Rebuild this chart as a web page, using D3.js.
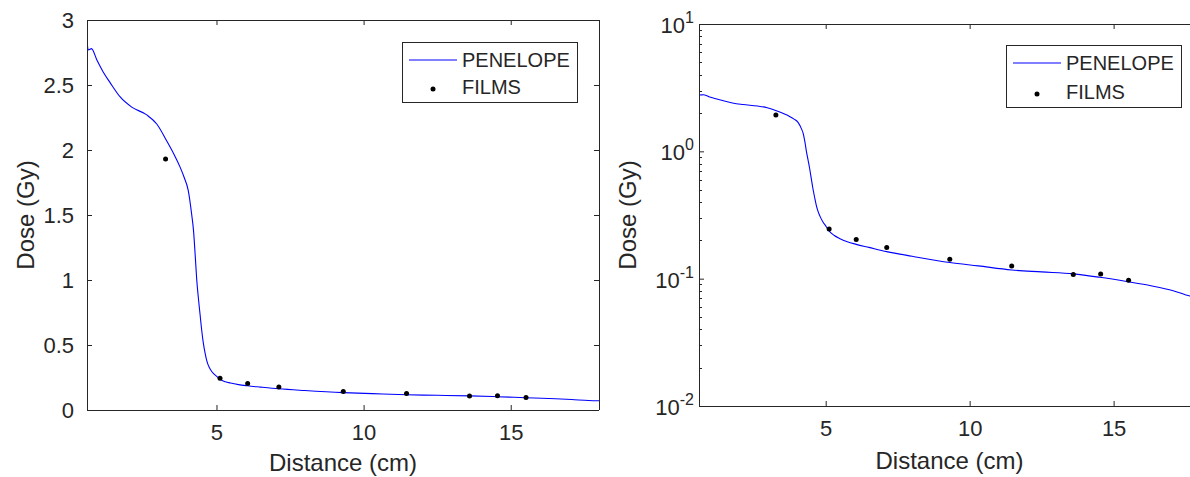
<!DOCTYPE html>
<html>
<head>
<meta charset="utf-8">
<script src="https://cdn.jsdelivr.net/npm/d3@7"></script>
<style>
  html, body { margin: 0; padding: 0; background: #fff; }
  svg { display: block; }
  text { font-family: "Liberation Sans", Arial, Helvetica, sans-serif; fill: #262626; }
</style>
</head>
<body>
<svg id="chart" width="1190" height="477"></svg>
<script>
// ---- data ----
const penelopeX = [0.6, 0.65, 0.75, 0.94, 1.15, 1.38, 1.72, 2.12, 2.63, 2.97, 3.31, 3.55, 3.76, 3.9, 4.04, 4.16, 4.22, 4.28, 4.33, 4.39, 4.44, 4.5, 4.55, 4.62, 4.67, 4.72, 4.8, 4.9, 5.0, 5.13, 5.3, 5.48, 5.75, 6.06, 6.5, 7.12, 8.0, 9.31, 10.3, 11.46, 12.5, 13.6, 14.52, 15.5, 16.3, 17.07, 17.65, 18.0];
const penelopeDose = [2.83, 2.77, 2.78, 2.69, 2.6, 2.52, 2.41, 2.33, 2.27, 2.2, 2.07, 1.97, 1.87, 1.79, 1.69, 1.5, 1.38, 1.18, 1.0, 0.85, 0.74, 0.61, 0.52, 0.43, 0.38, 0.345, 0.31, 0.28, 0.26, 0.235, 0.218, 0.207, 0.195, 0.186, 0.176, 0.163, 0.15, 0.134, 0.126, 0.117, 0.113, 0.109, 0.1025, 0.0946, 0.088, 0.0805, 0.073, 0.071];
const filmsX = [3.27, 5.12, 6.06, 7.12, 9.31, 11.46, 13.6, 14.55, 15.52];
const filmsDose = [1.93, 0.245, 0.203, 0.176, 0.142, 0.126, 0.108, 0.109, 0.097];
const xTicks = [5, 10, 15];
const linTicks = [0, 0.5, 1, 1.5, 2, 2.5, 3];
const logTicks = [0.01, 0.1, 1, 10];
const legendLabels = ["PENELOPE", "FILMS"];
const xLabel = "Distance (cm)";
const yLabel = "Dose (Gy)";

const AX = "#262626";
const LINE = "#0000ff";
const FS_TICK = 22, FS_LAB = 24, FS_LEG = 20;

const svg = d3.select("#chart");
const lineData = penelopeX.map((x, i) => ({x, y: penelopeDose[i]}));
const dotData = filmsX.map((x, i) => ({x, y: filmsDose[i]}));

function panel(cfg) {
  const g = svg.append("g");
  const x = d3.scaleLinear().domain([0.6, 18]).range([cfg.left, cfg.right]);
  const y = cfg.log
    ? d3.scaleLog().domain([0.01, 10]).range([cfg.bottom, cfg.top])
    : d3.scaleLinear().domain([0, 3]).range([cfg.bottom, cfg.top]);
  const id = "clip" + cfg.name;
  svg.append("clipPath").attr("id", id).append("rect")
    .attr("x", cfg.left).attr("y", cfg.top)
    .attr("width", cfg.right - cfg.left).attr("height", cfg.bottom - cfg.top);

  // curve
  g.append("path").datum(lineData)
    .attr("clip-path", `url(#${id})`)
    .attr("fill", "none").attr("stroke", LINE).attr("stroke-width", 1.1)
    .attr("d", d3.line().x(d => x(d.x)).y(d => y(d.y)).curve(d3.curveMonotoneX));
  // dots
  g.append("g").selectAll("circle").data(dotData).join("circle")
    .attr("cx", d => x(d.x)).attr("cy", d => y(d.y)).attr("r", 2.5).attr("fill", "#000");

  // axes
  const tl = 5;
  const xb = g.append("g").attr("transform", `translate(0,${cfg.bottom})`)
    .call(d3.axisBottom(x).tickValues(xTicks).tickSize(-tl).tickPadding(cfg.xPad).tickFormat(d3.format("d")));
  const xt = g.append("g").attr("transform", `translate(0,${cfg.top})`)
    .call(d3.axisTop(x).tickValues(xTicks).tickSize(-tl).tickFormat(""));
  let yl;
  if (cfg.log) {
    yl = g.append("g").attr("transform", `translate(${cfg.left},0)`)
      .call(d3.axisLeft(y).tickValues(logTicks).tickSize(-tl).tickFormat(""));
    // minor ticks
    const minors = [];
    [0.01, 0.1, 1].forEach(b => { for (let k = 2; k <= 9; k++) minors.push(b * k); });
    g.append("g").selectAll("line").data(minors).join("line")
      .attr("x1", cfg.left).attr("x2", cfg.left + 3)
      .attr("y1", d => Math.round(y(d)) + 0.5).attr("y2", d => Math.round(y(d)) + 0.5)
      .attr("stroke", AX).attr("stroke-width", 1);
    // labels with superscripts
    const lab = g.append("g");
    logTicks.forEach(v => {
      const e = Math.round(Math.log10(v));
      const t = lab.append("text").attr("x", cfg.left - 5).attr("y", y(v) + 9)
        .attr("text-anchor", "end").attr("font-size", FS_TICK);
      t.append("tspan").text("10");
      t.append("tspan").attr("dy", -10).attr("font-size", 16).text(String(e));
    });
  } else {
    yl = g.append("g").attr("transform", `translate(${cfg.left},0)`)
      .call(d3.axisLeft(y).tickValues(linTicks).tickSize(-tl).tickPadding(13).tickFormat(d => d3.format("~g")(d)));
    g.append("g").attr("transform", `translate(${cfg.right},0)`)
      .call(d3.axisRight(y).tickValues(linTicks).tickSize(-tl).tickFormat(""))
      .call(a => a.selectAll("path,line").attr("stroke", AX))
      .call(a => a.select("path").remove());
  }
  [xb, xt, yl].forEach(a => {
    a.selectAll("path,line").attr("stroke", AX).attr("stroke-width", 1);
    a.selectAll("text").attr("font-size", FS_TICK).attr("fill", AX)
      .style("font-family", '"Liberation Sans", Arial, sans-serif');
  });
  xt.select("path").remove();
  xb.select("path").remove();
  yl.select("path").remove();
  // box lines
  const bx = g.append("g").attr("stroke", AX).attr("stroke-width", 1).attr("shape-rendering", "crispEdges");
  bx.append("line").attr("x1", cfg.left).attr("x2", cfg.right).attr("y1", cfg.top).attr("y2", cfg.top);
  bx.append("line").attr("x1", cfg.left).attr("x2", cfg.right).attr("y1", cfg.bottom).attr("y2", cfg.bottom);
  bx.append("line").attr("x1", cfg.left).attr("x2", cfg.left).attr("y1", cfg.top).attr("y2", cfg.bottom);
  bx.append("line").attr("x1", cfg.right).attr("x2", cfg.right).attr("y1", cfg.top).attr("y2", cfg.bottom);

  // axis titles
  g.append("text").attr("x", (cfg.left + cfg.right) / 2).attr("y", cfg.bottom + cfg.xlabDy)
    .attr("text-anchor", "middle").attr("font-size", FS_LAB).text(xLabel);
  g.append("text")
    .attr("transform", `translate(${cfg.ylabX},${(cfg.top + cfg.bottom) / 2}) rotate(-90)`)
    .attr("text-anchor", "middle").attr("font-size", FS_LAB).text(yLabel);

  // legend
  const L = cfg.legend;
  const lg = g.append("g").attr("transform", `translate(${L.x},${L.y})`);
  lg.append("rect").attr("x", 0.5).attr("y", 0.5).attr("width", 175).attr("height", L.h)
    .attr("fill", "#fff").attr("stroke", AX).attr("stroke-width", 1);
  lg.append("line").attr("x1", 7).attr("x2", 55).attr("y1", 18).attr("y2", 18)
    .attr("stroke", LINE).attr("stroke-width", 1.1);
  lg.append("circle").attr("cx", 31).attr("cy", L.h - 13).attr("r", 2.5).attr("fill", "#000");
  lg.append("text").attr("x", 60).attr("y", 25).attr("font-size", FS_LEG).text(legendLabels[0]);
  lg.append("text").attr("x", 60).attr("y", L.h - 8).attr("font-size", FS_LEG).text(legendLabels[1]);
}

panel({name: "a", left: 87, right: 599, top: 20, bottom: 410, log: false, ylabX: 34, xPad: 14, xlabDy: 61,
       legend: {x: 402, y: 42, h: 60}});
panel({name: "b", left: 699, right: 1200, top: 24, bottom: 406, log: true, ylabX: 636, xPad: 14, xlabDy: 63,
       legend: {x: 1006, y: 45, h: 62}});
</script>
</body>
</html>
